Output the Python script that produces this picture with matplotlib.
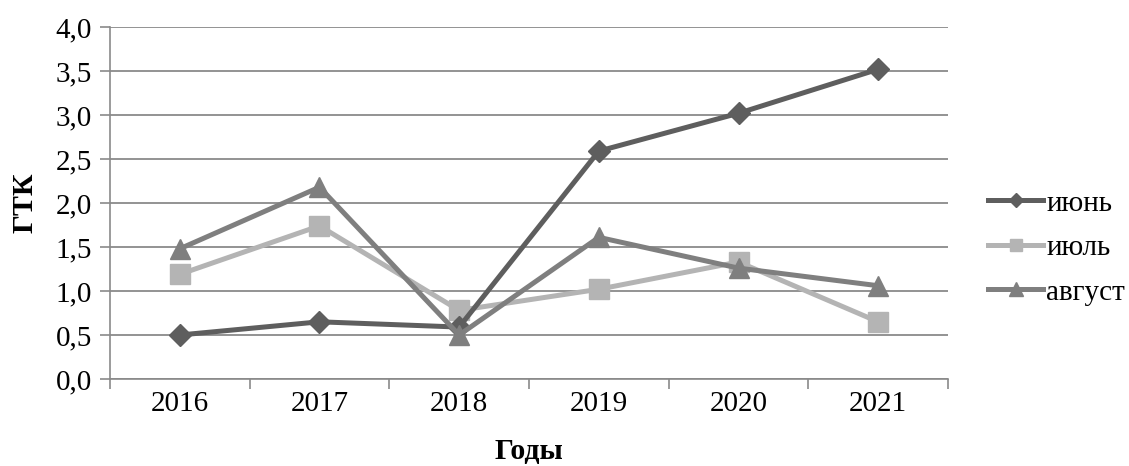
import matplotlib
matplotlib.use("Agg")
import matplotlib.pyplot as plt
import numpy as np
from matplotlib.ticker import FuncFormatter, FixedLocator

# годы и значения ГТК по месяцам
years = ["2016", "2017", "2018", "2019", "2020", "2021"]
june = [0.50, 0.65, 0.59, 2.59, 3.02, 3.52]
july = [1.19, 1.74, 0.78, 1.02, 1.33, 0.65]
august = [1.48, 2.18, 0.50, 1.61, 1.26, 1.06]

plt.rcParams["font.family"] = ["Liberation Serif", "DejaVu Serif"]

fig = plt.figure(figsize=(11.29, 4.66), dpi=100)
ax = fig.add_axes([0.0974, 0.1867, 0.7423, 0.7553])

x = np.arange(len(years))
ax.plot(x, june, color="#5e5e5e", lw=3.6, marker="D", ms=11.5, label="июнь", zorder=5)
ax.plot(x, july, color="#b4b4b4", lw=3.6, marker="s", ms=14, label="июль", zorder=4)
ax.plot(x, august, color="#7f7f7f", lw=3.6, marker="^", ms=15, label="август", zorder=6)

ax.set_xlim(-0.5, len(years) - 0.5)
ax.set_ylim(0, 4)
ax.set_yticks(np.arange(0, 4.01, 0.5))
ax.yaxis.set_major_formatter(FuncFormatter(lambda v, p: f"{v:.1f}".replace(".", ",")))
ax.set_xticks(x)
ax.set_xticklabels(years)
ax.xaxis.set_minor_locator(FixedLocator(np.arange(-0.5, len(years), 1.0)))

ax.grid(axis="y", color="#8a8a8a", lw=1.3)
ax.set_axisbelow(True)
for s in ["top", "right"]:
    ax.spines[s].set_visible(False)
for s in ["left", "bottom"]:
    ax.spines[s].set_color("#8a8a8a")
    ax.spines[s].set_linewidth(1.2)

ax.tick_params(axis="y", length=7, width=1.2, color="#8a8a8a", labelsize=21, pad=6)
ax.tick_params(axis="x", which="major", length=0, labelsize=21, pad=9)
ax.tick_params(axis="x", which="minor", length=7, width=1.2, color="#8a8a8a")

ax.set_ylabel("ГТК", fontsize=21.5, fontweight="bold", labelpad=12)
ax.set_xlabel("Годы", fontsize=21.5, fontweight="bold", labelpad=15)

# легенда справа от графика
leg = fig.legend(loc="center left", bbox_to_anchor=(0.875, 0.468), frameon=False,
                 fontsize=21, handlelength=1.9, handletextpad=0.1, labelspacing=0.62,
                 borderpad=0, borderaxespad=0, markerscale=0.65)

fig.savefig("out.png", dpi=100)
